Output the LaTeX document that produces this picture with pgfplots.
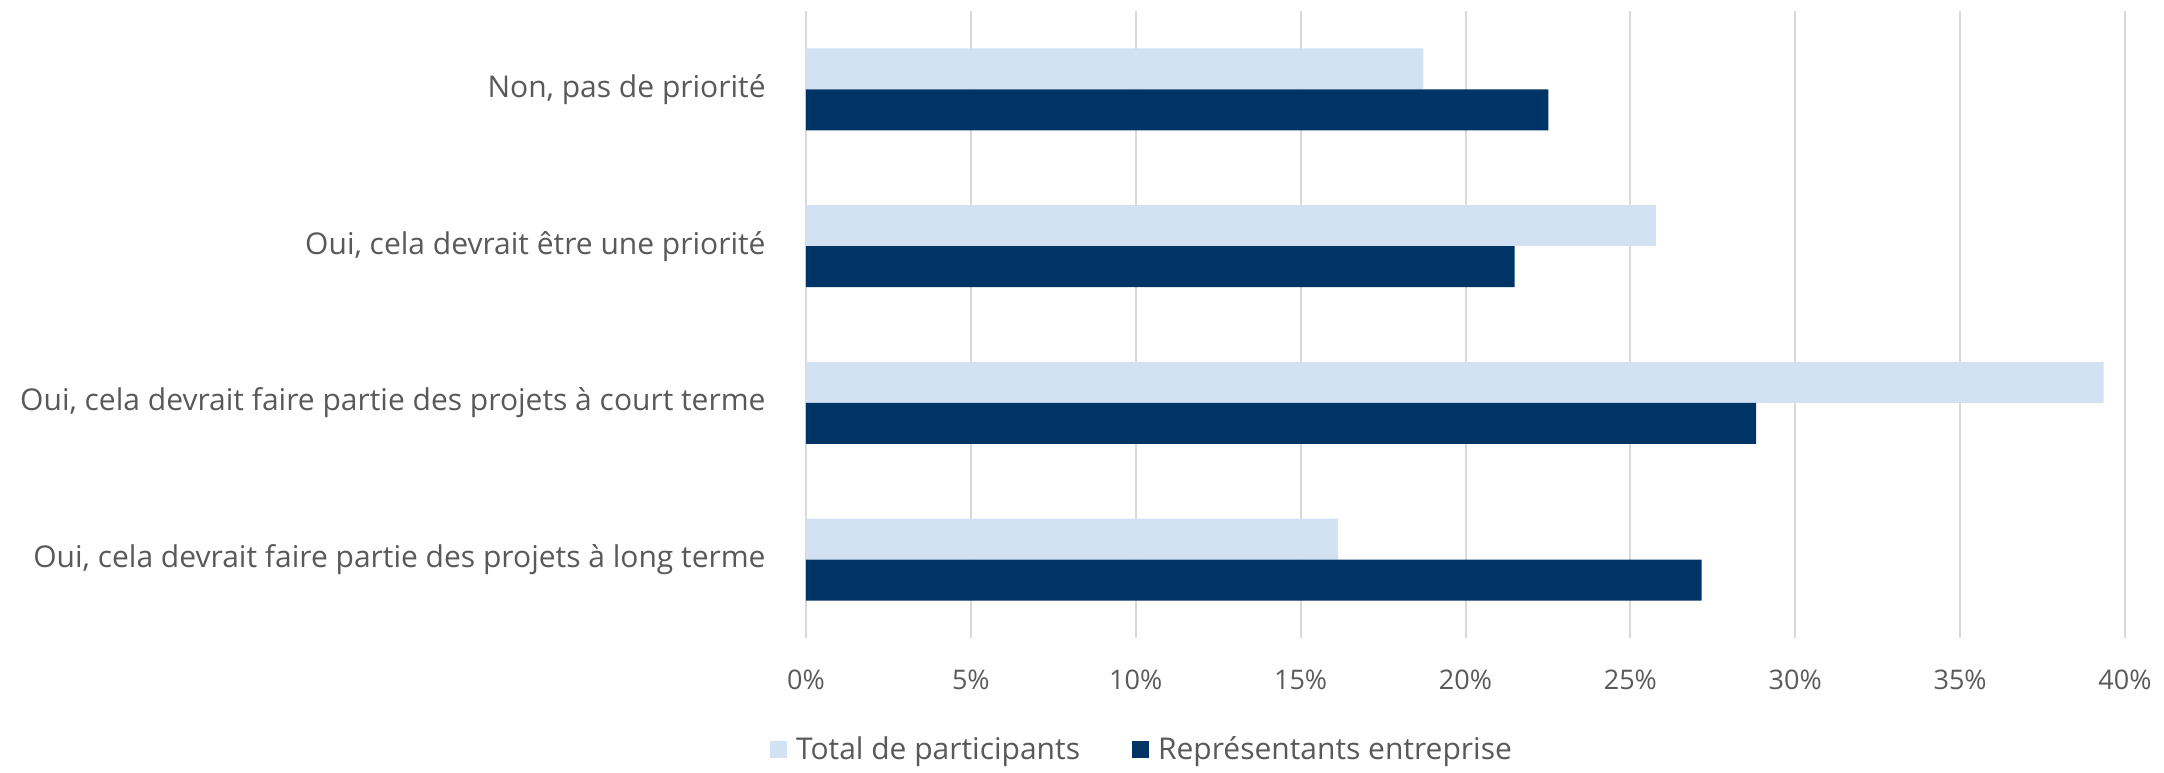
\documentclass[border=0pt]{standalone}
\usepackage{pgfplots}
\pgfplotsset{compat=1.18}
\usepackage{fontspec}
\setmainfont{Open Sans}
\definecolor{txt}{HTML}{595959}
\definecolor{lightbar}{HTML}{D3E2F3}
\definecolor{darkbar}{HTML}{003366}
\definecolor{gridc}{HTML}{D9D9D9}

\begin{document}
\begin{tikzpicture}
\useasboundingbox (0,0) rectangle (1082pt,386pt);
\begin{axis}[
    at={(403pt,67pt)}, anchor=south west,
    scale only axis,
    width=659.5pt, height=313.5pt,
    xbar, bar width=20.5pt,
    xmin=0, xmax=40,
    ymin=-0.5, ymax=3.5,
    y dir=reverse,
    ytick={0,1,2,3},
    yticklabels={{Non, pas de priorité},
                 {Oui, cela devrait être une priorité},
                 {Oui, cela devrait faire partie des projets à court terme},
                 {Oui, cela devrait faire partie des projets à long terme}},
    xtick={0,5,...,40},
    xticklabels={0\%,5\%,10\%,15\%,20\%,25\%,30\%,35\%,40\%},
    xmajorgrids, grid style={gridc, line width=1pt},
    axis line style={draw=none},
    major tick length=0pt,
    yticklabel style={font=\fontsize{15}{18}\selectfont, text=txt,
        inner sep=0pt, anchor=east, xshift=-20pt},
    xticklabel style={font=\fontsize{13.5}{16}\selectfont, text=txt,
        inner sep=0pt, anchor=north, yshift=-16pt},
    legend columns=2,
    legend style={draw=none, at={(0.2555,-0.1786)}, anchor=center,
        font=\fontsize{15}{18}\selectfont, text=txt,
        /tikz/every even column/.append style={column sep=24pt}},
    legend image code/.code={\fill[#1] (0pt,-4pt) rectangle (8.3pt,4.3pt);
        \path (11pt,0pt);},
]
\addplot[fill=lightbar, draw=none, bar shift=10.25pt] coordinates {
    (18.72,0) (25.77,1) (39.35,2) (16.14,3)
};
\addlegendentry{Total de participants}
\addplot[fill=darkbar, draw=none, bar shift=-10.25pt] coordinates {
    (22.51,0) (21.49,1) (28.81,2) (27.16,3)
};
\addlegendentry{Représentants entreprise}
\end{axis}
\end{tikzpicture}
\end{document}
